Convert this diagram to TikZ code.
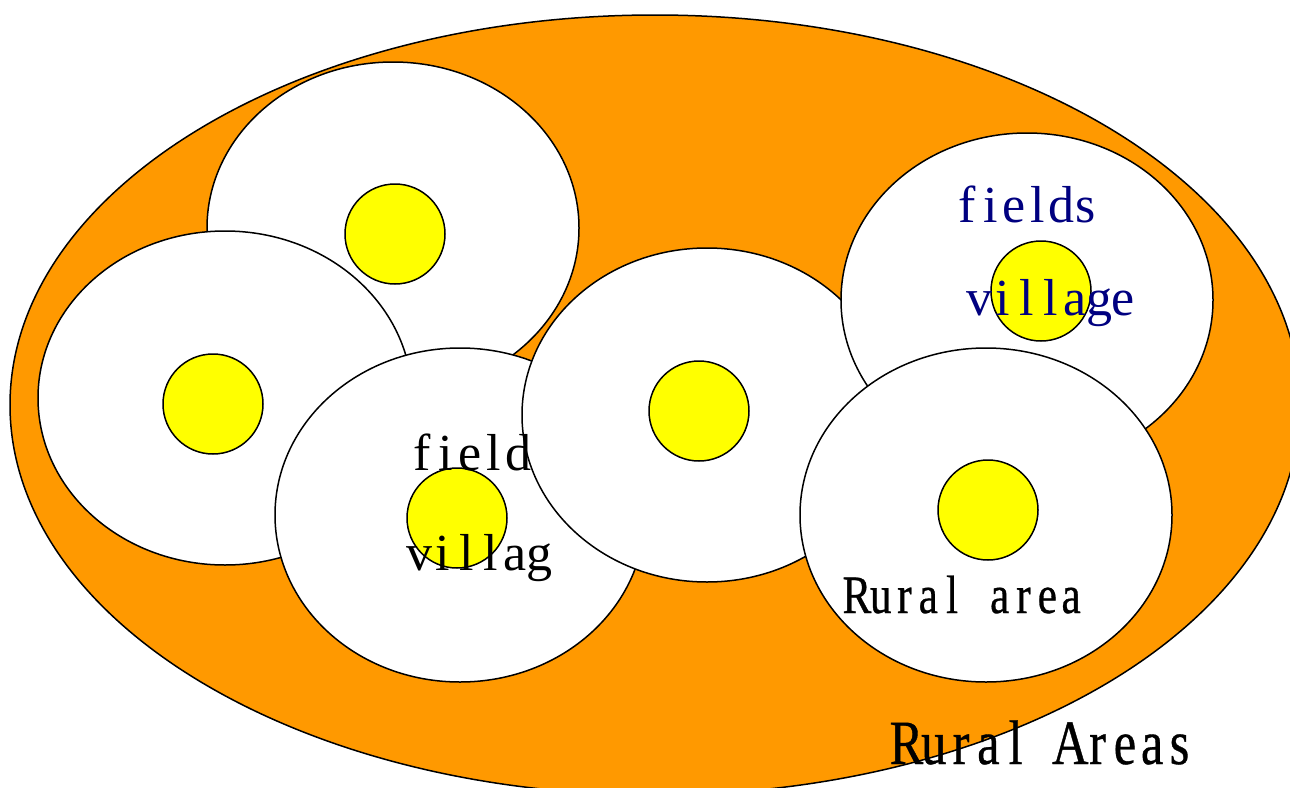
\documentclass[tikz,border=0pt]{standalone}
\usepackage{fontspec}
\setmainfont{Liberation Serif}
\newfontfamily\narrowfont[FakeStretch=0.8,FakeBold=0.6]{Liberation Serif}
\ExplSyntaxOn
\NewDocumentCommand\spaced{mm}{\tl_map_inline:nn{#2}{\makebox[#1][c]{##1}}}
\ExplSyntaxOff
\definecolor{ruralorange}{RGB}{255,153,0}
\definecolor{labelnavy}{RGB}{0,0,128}
\definecolor{villageyellow}{RGB}{255,255,0}
\tikzset{
  region/.style={draw=black,line width=1.5pt,fill=ruralorange},
  fieldarea/.style={draw=black,line width=1.5pt,fill=white},
  villagedot/.style={draw=black,line width=1.5pt,fill=villageyellow},
  lbl/.style={inner sep=0pt,anchor=base,font=\fontsize{52}{52}\selectfont},
  biglbl/.style={inner sep=0pt,anchor=base},
}
\begin{document}
\begin{tikzpicture}[x=1pt,y=-1pt]
\useasboundingbox (0,0) rectangle (1290,787);
\clip (0,0) rectangle (1290,787);
% outer rural region
\draw[region] (655,405) ellipse[x radius=645pt,y radius=390pt];
% fields
\draw[fieldarea] (393,228) ellipse[x radius=186pt,y radius=166pt];
\draw[fieldarea] (225,398) ellipse[x radius=187pt,y radius=167pt];
\draw[fieldarea] (460,515) ellipse[x radius=185pt,y radius=167pt];
\draw[fieldarea] (707,415) ellipse[x radius=185pt,y radius=167pt];
\draw[fieldarea] (1027,300) ellipse[x radius=186pt,y radius=167pt];
\draw[fieldarea] (986,515) ellipse[x radius=186pt,y radius=167pt];
% villages
\draw[villagedot] (395,234) circle[radius=50pt];
\draw[villagedot] (213,404) circle[radius=50pt];
\draw[villagedot] (457,518) circle[radius=50pt];
\draw[villagedot] (699,411) circle[radius=50pt];
\draw[villagedot] (1041,291) circle[radius=50pt];
\draw[villagedot] (988,510) circle[radius=50pt];
% labels
\node[lbl] (fieldlbl) at (470,470) {\spaced{24pt}{field}};
\node[lbl] (villaglbl) at (479,570) {\spaced{24pt}{villag}};
\node[lbl,text=labelnavy] (fieldslbl) at (1026,222) {\spaced{23.7pt}{fields}};
\node[lbl,text=labelnavy] (villagelbl) at (1051,315) {\spaced{24pt}{village}};
\node[biglbl,font=\narrowfont\fontsize{54}{54}\selectfont] (arealbl) at (964,613) {\spaced{23.8pt}{Rural{ }area}};
\node[biglbl,font=\narrowfont\fontsize{63}{63}\selectfont] (areaslbl) at (1043,764) {\spaced{27.3pt}{Rural{ }Areas}};
\end{tikzpicture}
\end{document}
